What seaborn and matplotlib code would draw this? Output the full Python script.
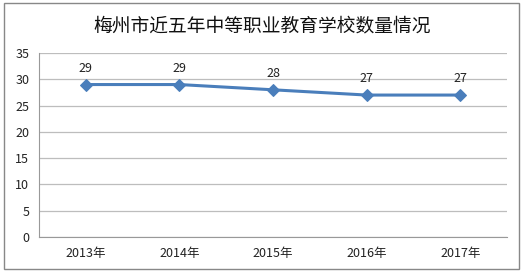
import matplotlib
matplotlib.use("Agg")
import matplotlib.pyplot as plt
import seaborn as sns
import pandas as pd
import numpy as np
from matplotlib.patches import Rectangle

years = ["2013年", "2014年", "2015年", "2016年", "2017年"]
counts = [29, 29, 28, 27, 27]
title = "梅州市近五年中等职业教育学校数量情况"
yticks = [0, 5, 10, 15, 20, 25, 30, 35]

sns.set_style("white")
plt.rcParams['font.family'] = ['Noto Sans CJK SC', 'DejaVu Sans']

df = pd.DataFrame({"year": years, "count": counts})

fig = plt.figure(figsize=(5.25, 2.74), dpi=100)
ax = fig.add_axes([39/525, 1-237/274, (507-39)/525, (237-53)/274])

sns.lineplot(data=df, x="year", y="count", ax=ax, color="#4a7ebb", linewidth=2.2,
             marker="D", markersize=6.5, markeredgecolor="#4a7ebb", sort=False)

for i, v in enumerate(counts):
    ax.annotate(str(v), (i, v), xytext=(0, 7), textcoords="offset points",
                ha="center", va="bottom", fontsize=9, color="#222222")

ax.set_xlim(-0.5, len(years) - 0.5)
ax.set_ylim(0, 35)
ax.set_yticks(yticks)
ax.set_yticklabels([str(t) for t in yticks], fontsize=9, color="#222222")
ax.set_xticks(range(len(years)))
ax.set_xticklabels(years, fontsize=9, color="#222222")
ax.set_xticks(np.arange(-0.5, len(years), 1.0), minor=True)
ax.tick_params(axis="x", which="major", length=0, pad=7)
ax.tick_params(axis="x", which="minor", length=4, color="#999999", width=0.8)
ax.tick_params(axis="y", which="major", length=4, color="#999999", width=0.8, pad=3)
ax.set_xlabel("")
ax.set_ylabel("")
ax.grid(axis="y", color="#bdbdbd", linewidth=0.9)
ax.set_axisbelow(True)
for s in ["top", "right"]:
    ax.spines[s].set_visible(False)
for s in ["left", "bottom"]:
    ax.spines[s].set_color("#999999")
    ax.spines[s].set_linewidth(0.8)

fig.text(262/525, 1-26/274, title, ha="center", va="center", fontsize=13.5, color="#111111")

fig.patches.append(Rectangle((4/525, 1-269/274), (519-4)/525, (269-3)/274,
                             transform=fig.transFigure, fill=False,
                             edgecolor="#888888", linewidth=1.0))

fig.savefig("out.png", dpi=100)
